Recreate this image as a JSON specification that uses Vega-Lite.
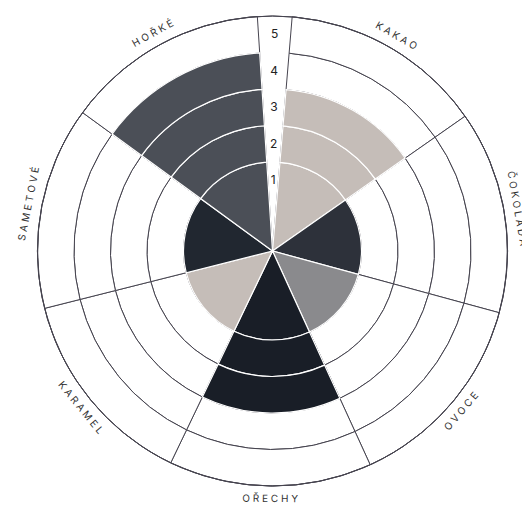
{
  "$schema": "https://vega.github.io/schema/vega-lite/v6.json",
  "width": 499,
  "height": 502,
  "autosize": "none",
  "padding": {"left": 23, "top": 0, "right": 0, "bottom": 7},
  "background": "white",
  "config": {"view": {"stroke": null}},
  "datasets": {
    "seg": [
      {"cat": "KAKAO", "n": 1, "rating": 3, "level": 1, "lo": 0, "w": 1},
      {"cat": "KAKAO", "n": 1, "rating": 3, "level": 2, "lo": 1, "w": 1},
      {"cat": "KAKAO", "n": 1, "rating": 3, "level": 3, "lo": 2, "w": 1},
      {"cat": "KAKAO", "n": 1, "rating": 3, "level": 4, "lo": 3, "w": 1},
      {"cat": "KAKAO", "n": 1, "rating": 3, "level": 5, "lo": 4, "w": 1},
      {"cat": "ČOKOLÁDA", "n": 2, "rating": 1, "level": 1, "lo": 0, "w": 1},
      {"cat": "ČOKOLÁDA", "n": 2, "rating": 1, "level": 2, "lo": 1, "w": 1},
      {"cat": "ČOKOLÁDA", "n": 2, "rating": 1, "level": 3, "lo": 2, "w": 1},
      {"cat": "ČOKOLÁDA", "n": 2, "rating": 1, "level": 4, "lo": 3, "w": 1},
      {"cat": "ČOKOLÁDA", "n": 2, "rating": 1, "level": 5, "lo": 4, "w": 1},
      {"cat": "OVOCE", "n": 3, "rating": 1, "level": 1, "lo": 0, "w": 1},
      {"cat": "OVOCE", "n": 3, "rating": 1, "level": 2, "lo": 1, "w": 1},
      {"cat": "OVOCE", "n": 3, "rating": 1, "level": 3, "lo": 2, "w": 1},
      {"cat": "OVOCE", "n": 3, "rating": 1, "level": 4, "lo": 3, "w": 1},
      {"cat": "OVOCE", "n": 3, "rating": 1, "level": 5, "lo": 4, "w": 1},
      {"cat": "OŘECHY", "n": 4, "rating": 3, "level": 1, "lo": 0, "w": 1},
      {"cat": "OŘECHY", "n": 4, "rating": 3, "level": 2, "lo": 1, "w": 1},
      {"cat": "OŘECHY", "n": 4, "rating": 3, "level": 3, "lo": 2, "w": 1},
      {"cat": "OŘECHY", "n": 4, "rating": 3, "level": 4, "lo": 3, "w": 1},
      {"cat": "OŘECHY", "n": 4, "rating": 3, "level": 5, "lo": 4, "w": 1},
      {"cat": "KARAMEL", "n": 5, "rating": 1, "level": 1, "lo": 0, "w": 1},
      {"cat": "KARAMEL", "n": 5, "rating": 1, "level": 2, "lo": 1, "w": 1},
      {"cat": "KARAMEL", "n": 5, "rating": 1, "level": 3, "lo": 2, "w": 1},
      {"cat": "KARAMEL", "n": 5, "rating": 1, "level": 4, "lo": 3, "w": 1},
      {"cat": "KARAMEL", "n": 5, "rating": 1, "level": 5, "lo": 4, "w": 1},
      {"cat": "SAMETOVÉ", "n": 6, "rating": 1, "level": 1, "lo": 0, "w": 1},
      {"cat": "SAMETOVÉ", "n": 6, "rating": 1, "level": 2, "lo": 1, "w": 1},
      {"cat": "SAMETOVÉ", "n": 6, "rating": 1, "level": 3, "lo": 2, "w": 1},
      {"cat": "SAMETOVÉ", "n": 6, "rating": 1, "level": 4, "lo": 3, "w": 1},
      {"cat": "SAMETOVÉ", "n": 6, "rating": 1, "level": 5, "lo": 4, "w": 1},
      {"cat": "HOŘKÉ", "n": 7, "rating": 4, "level": 1, "lo": 0, "w": 1},
      {"cat": "HOŘKÉ", "n": 7, "rating": 4, "level": 2, "lo": 1, "w": 1},
      {"cat": "HOŘKÉ", "n": 7, "rating": 4, "level": 3, "lo": 2, "w": 1},
      {"cat": "HOŘKÉ", "n": 7, "rating": 4, "level": 4, "lo": 3, "w": 1},
      {"cat": "HOŘKÉ", "n": 7, "rating": 4, "level": 5, "lo": 4, "w": 1}
    ],
    "cats": [
      {"cat": "KAKAO", "label": "K A K A O", "n": 1, "w": 1},
      {"cat": "ČOKOLÁDA", "label": "Č O K O L Á D A", "n": 2, "w": 1},
      {"cat": "OVOCE", "label": "O V O C E", "n": 3, "w": 1},
      {"cat": "OŘECHY", "label": "O Ř E C H Y", "n": 4, "w": 1},
      {"cat": "KARAMEL", "label": "K A R A M E L", "n": 5, "w": 1},
      {"cat": "SAMETOVÉ", "label": "S A M E T O V É", "n": 6, "w": 1},
      {"cat": "HOŘKÉ", "label": "H O Ř K É", "n": 7, "w": 1}
    ],
    "ticks": [
      {"level": 1}, {"level": 2}, {"level": 3}, {"level": 4}, {"level": 5}
    ]
  },
  "layer": [
    {
      "data": {"name": "seg"},
      "mark": {"type": "arc", "fill": "white", "stroke": "#46444f", "strokeWidth": 1},
      "encoding": {
        "theta": {"field": "w", "type": "quantitative", "stack": true,
                  "scale": {"domain": [0, 7], "range": [0.0838, 6.2186]}},
        "radius": {"field": "level", "type": "quantitative",
                   "scale": {"type": "linear", "domain": [0, 1, 5], "range": [0, 89, 235], "zero": false, "nice": false}},
        "radius2": {"field": "lo"},
        "order": {"field": "n", "type": "quantitative"}
      }
    },
    {
      "data": {"name": "ticks"},
      "transform": [{"filter": "datum.level == 5"}],
      "mark": {"type": "arc", "fillOpacity": 0, "stroke": "#46444f", "strokeWidth": 1},
      "encoding": {
        "theta": {"value": 0},
        "theta2": {"value": 6.2832},
        "radius": {"field": "level", "type": "quantitative"},
        "radius2": {"field": "level"}
      }
    },
    {
      "data": {"name": "seg"},
      "mark": {"type": "arc", "stroke": "white", "strokeWidth": 1.2},
      "encoding": {
        "theta": {"field": "w", "type": "quantitative", "stack": true},
        "radius": {"field": "level", "type": "quantitative"},
        "radius2": {"field": "lo"},
        "order": {"field": "n", "type": "quantitative"},
        "fill": {"field": "cat", "type": "nominal", "legend": null,
                 "scale": {"domain": ["KAKAO", "ČOKOLÁDA", "OVOCE", "OŘECHY", "KARAMEL", "SAMETOVÉ", "HOŘKÉ"],
                           "range": ["#c5bdb8", "#2d313a", "#8a8a8d", "#191e27", "#c5bdb8", "#212730", "#4b4f57"]}},
        "opacity": {"condition": {"test": "datum.level <= datum.rating", "value": 1}, "value": 0}
      }
    },
    {
      "data": {"name": "cats"},
      "mark": {"type": "text", "radius": 248, "font": "Inter", "fontSize": 10, "fill": "#333333",
               "align": "center", "baseline": "middle",
               "angle": {"expr": "((scale('theta', (datum.w_start + datum.w_end) / 2) * 180 / PI) + 90) % 180 - 90"}},
      "encoding": {
        "theta": {"field": "w", "type": "quantitative", "stack": true},
        "order": {"field": "n", "type": "quantitative"},
        "text": {"field": "label", "type": "nominal"}
      }
    },
    {
      "data": {"name": "ticks"},
      "mark": {"type": "text", "radiusOffset": -18, "font": "Inter", "fontSize": 12, "fill": "#222222",
               "align": "center", "baseline": "middle"},
      "encoding": {
        "theta": {"value": 0.0096},
        "radius": {"field": "level", "type": "quantitative"},
        "text": {"field": "level", "type": "quantitative"}
      }
    }
  ]
}
